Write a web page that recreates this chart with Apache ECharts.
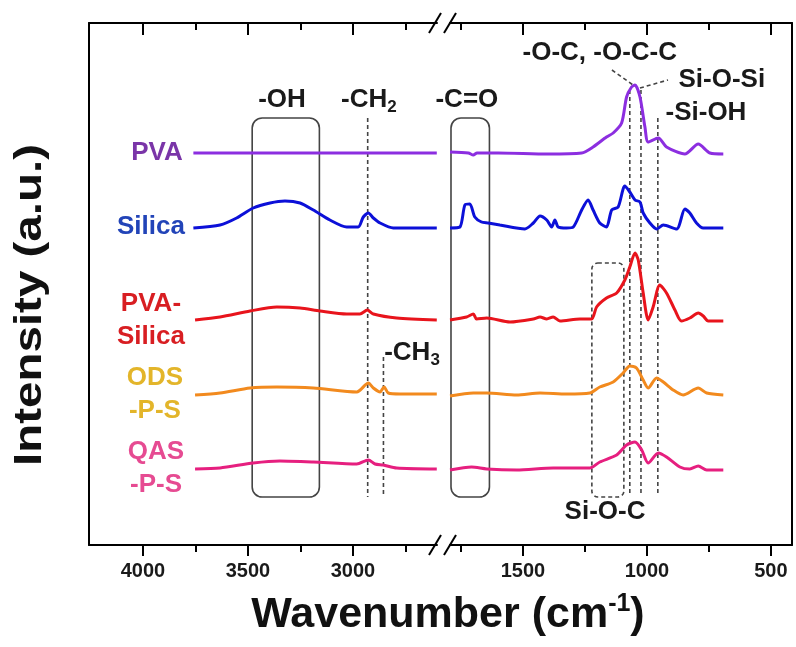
<!DOCTYPE html>
<html><head><meta charset="utf-8">
<script src="https://cdn.jsdelivr.net/npm/echarts@6/dist/echarts.min.js"></script>
<style>html,body{margin:0;padding:0;background:#fff}#c{width:796px;height:647px}</style>
</head><body><div id="c"></div>
<script>
const FONT = '"Liberation Sans", Arial, Helvetica, sans-serif';

// ---- axis segments (wavenumber, cm-1), broken axis ----
const leftRange = [2600, 4257];
const rightRange = [415, 1794];
const leftMajorTicks = [4000, 3500, 3000];
const leftMinorTicks = [3750, 3250, 2750];
const rightMajorTicks = [1500, 1000, 500];
const rightMinorTicks = [1750, 1250, 750];
const intensityRange = [0, 522];

// ---- series (stacked spectra, [wavenumber, intensity a.u.]) ----
const seriesNames = ['PVA', 'Silica', 'PVA-Silica', 'ODS-P-S', 'QAS-P-S'];
const seriesLabels = ['PVA', 'Silica', 'PVA-\nSilica', 'ODS\n-P-S', 'QAS\n-P-S'];
const lineColors = ['#8c2ee0', '#0c10d8', '#e8141c', '#f28a1e', '#e61f7f'];
const labelColors = ['#7a35a8', '#2244b8', '#d81e22', '#e3b52a', '#e64b92'];
const labelAnchors = [[3933, 392], [3962, 318], [3962, 225], [3943, 151], [3938, 77]];

const pvaHigh = [[3760,392],[3500,392],[3200,392],[2900,392],[2601,392]];
const pvaLow = [[1794,393],[1720,392],[1700,390],[1685,392],[1600,392],[1400,391],[1263,392],[1217,398],[1163,408],[1136,412],[1102,422],[1082,448],[1062,458],[1048,460],[1028,448],[1008,418],[995,403],[954,407],[921,398],[847,391],[793,401],[746,392],[692,391]];

const silicaHigh = [[3760,317],[3633,320],[3554,327],[3475,337],[3395,342],[3324,344],[3252,342],[3189,335],[3110,325],[3030,318],[2975,318],[2951,328],[2927,332],[2903,327],[2871,322],[2808,317],[2601,317]];
const silicaLow = [[1794,317],[1754,318],[1734,340],[1714,341],[1694,328],[1667,323],[1640,322],[1593,320],[1492,316],[1458,322],[1431,329],[1404,325],[1384,318],[1371,325],[1358,318],[1324,317],[1297,318],[1263,335],[1237,345],[1217,335],[1190,322],[1163,318],[1142,335],[1116,338],[1089,359],[1069,353],[1048,345],[1028,343],[1015,332],[988,322],[961,316],[934,320],[880,316],[847,336],[827,332],[800,322],[773,317],[692,317]];

const pvaSilicaHigh = [[3752,225],[3633,228],[3490,234],[3363,238],[3252,237],[3157,234],[3030,231],[2967,231],[2932,235],[2903,231],[2792,227],[2601,225]];
const pvaSilicaLow = [[1794,225],[1727,228],[1700,231],[1687,226],[1646,227],[1552,223],[1458,226],[1431,228],[1404,226],[1378,228],[1351,224],[1270,226],[1223,226],[1203,238],[1163,247],[1122,252],[1089,265],[1069,278],[1048,292],[1035,285],[1015,252],[995,225],[975,238],[948,260],[921,252],[887,235],[861,224],[827,227],[793,232],[773,229],[753,224],[692,224]];

const odsHigh = [[3752,150],[3633,152],[3490,157],[3363,158],[3189,157],[2982,153],[2927,162],[2903,157],[2871,153],[2852,158],[2832,152],[2776,151],[2601,151]];
const odsLow = [[1794,149],[1700,152],[1646,152],[1525,150],[1431,152],[1324,151],[1230,152],[1190,158],[1136,163],[1096,172],[1069,179],[1042,177],[1015,165],[995,157],[961,167],[934,163],[894,155],[854,150],[793,157],[759,152],[692,150]];

const qasHigh = [[3752,76],[3633,77],[3475,82],[3348,84],[3189,83],[2982,81],[2927,85],[2895,81],[2856,80],[2792,77],[2601,76]];
const qasLow = [[1794,75],[1707,78],[1646,76],[1525,75],[1378,77],[1230,77],[1190,83],[1122,90],[1082,100],[1048,103],[1021,95],[995,82],[954,92],[921,88],[867,78],[827,76],[793,79],[759,75],[692,75]];

const highSets = [pvaHigh, silicaHigh, pvaSilicaHigh, odsHigh, qasHigh];
const lowSets = [pvaLow, silicaLow, pvaSilicaLow, odsLow, qasLow];

// ---- annotations (data coordinates, segment 0 = high wavenumber, 1 = low) ----
const boxes = [
  {seg: 0, x: [3480, 3160], y: [427, 48], dashed: false},
  {seg: 1, x: [1790, 1635], y: [427, 48], dashed: false},
  {seg: 1, x: [1222, 1093], y: [282, 48], dashed: true}
];
const vLines = [
  {seg: 0, x: 2930, y: [427, 48]},
  {seg: 0, x: 2855, y: [188, 48]},
  {seg: 1, x: 1069, y: [455, 52]},
  {seg: 1, x: 1024, y: [455, 52]},
  {seg: 1, x: 956, y: [427, 52]}
];
const leaders = [
  {seg: 1, p: [[1141, 475], [1056, 460]]},
  {seg: 1, p: [[1028, 457], [915, 465]]}
];
const notes = [
  {seg: 0, at: [3338, 445], text: '-OH'},
  {seg: 0, at: [2924, 445], text: '-CH{s|2}'},
  {seg: 0, at: [2719, 192], text: '-CH{s|3}'},
  {seg: 1, at: [1726, 445], text: '-C=O'},
  {seg: 1, at: [1190, 492], text: '-O-C, -O-C-C'},
  {seg: 1, at: [698, 465], text: 'Si-O-Si'},
  {seg: 1, at: [762, 432], text: '-Si-OH'},
  {seg: 1, at: [1169, 33], text: 'Si-O-C'}
];

const chart = echarts.init(document.getElementById('c'), null, {renderer: 'canvas'});

function xAxisDef(grid, position, range, ticks, len, withLine, withLabels) {
  return {
    type: 'value', gridIndex: grid, position: position, inverse: true,
    min: range[0], max: range[1],
    axisLine: {show: withLine, onZero: false, lineStyle: {color: '#000', width: 2}},
    axisTick: {show: true, inside: position === 'top', length: len, customValues: ticks,
      lineStyle: {color: '#000', width: 2}},
    axisLabel: withLabels ? {show: true, customValues: ticks, margin: 16, fontSize: 20,
      fontWeight: 'bold', fontFamily: FONT, color: '#1a1a1a',
      formatter: v => String(Math.round(v))} : {show: false},
    splitLine: {show: false}, minorTick: {show: false}
  };
}
function yAxisDef(grid, position) {
  return {
    type: 'value', gridIndex: grid, position: position, min: intensityRange[0], max: intensityRange[1],
    axisLine: {show: true, onZero: false, lineStyle: {color: '#000', width: 2}},
    axisTick: {show: false}, axisLabel: {show: false}, splitLine: {show: false}
  };
}

const series = [];
seriesNames.forEach((name, i) => {
  [highSets[i], lowSets[i]].forEach((data, seg) => {
    series.push({
      type: 'line', name: name, data: data,
      xAxisIndex: seg === 0 ? 0 : 4, yAxisIndex: seg,
      showSymbol: false, symbol: 'none', smooth: 0.25, clip: false, silent: true,
      lineStyle: {color: lineColors[i], width: 3}, itemStyle: {color: lineColors[i]}, z: 3
    });
  });
});

chart.setOption({
  animation: false,
  backgroundColor: '#fff',
  grid: [
    {left: 89, top: 23, width: 348, height: 522, containLabel: false},
    {left: 450, top: 23, width: 342, height: 522, containLabel: false}
  ],
  xAxis: [
    xAxisDef(0, 'bottom', leftRange, leftMajorTicks, 11, true, true),
    xAxisDef(0, 'bottom', leftRange, leftMinorTicks, 7, false, false),
    xAxisDef(0, 'top', leftRange, leftMajorTicks, 12, true, false),
    xAxisDef(0, 'top', leftRange, leftMinorTicks, 7, false, false),
    xAxisDef(1, 'bottom', rightRange, rightMajorTicks, 11, true, true),
    xAxisDef(1, 'bottom', rightRange, rightMinorTicks, 7, false, false),
    xAxisDef(1, 'top', rightRange, rightMajorTicks, 12, true, false),
    xAxisDef(1, 'top', rightRange, rightMinorTicks, 7, false, false)
  ],
  yAxis: [yAxisDef(0, 'left'), yAxisDef(1, 'right')],
  series: series
});

function px(seg, x, y) {
  return chart.convertToPixel(seg === 0 ? {xAxisIndex: 0, yAxisIndex: 0} : {xAxisIndex: 4, yAxisIndex: 1}, [x, y]);
}

const g = [];
const annoStroke = '#444';
boxes.forEach(b => {
  const p1 = px(b.seg, b.x[0], b.y[0]), p2 = px(b.seg, b.x[1], b.y[1]);
  g.push({type: 'rect', z: 1, silent: true,
    shape: {x: p1[0], y: p1[1], width: p2[0] - p1[0], height: p2[1] - p1[1], r: b.dashed ? 6 : 10},
    style: {fill: 'none', stroke: annoStroke, lineWidth: 1.6, lineDash: b.dashed ? [4, 3] : null}});
});
vLines.forEach(l => {
  const p1 = px(l.seg, l.x, l.y[0]), p2 = px(l.seg, l.x, l.y[1]);
  g.push({type: 'line', z: 1, silent: true, shape: {x1: p1[0], y1: p1[1], x2: p2[0], y2: p2[1]},
    style: {stroke: annoStroke, lineWidth: 1.6, lineDash: [4, 3]}});
});
leaders.forEach(l => {
  const p1 = px(l.seg, l.p[0][0], l.p[0][1]), p2 = px(l.seg, l.p[1][0], l.p[1][1]);
  g.push({type: 'line', z: 1, silent: true, shape: {x1: p1[0], y1: p1[1], x2: p2[0], y2: p2[1]},
    style: {stroke: annoStroke, lineWidth: 1.6, lineDash: [4, 3]}});
});
notes.forEach(n => {
  const p = px(n.seg, n.at[0], n.at[1]);
  g.push({type: 'text', z: 5, silent: true, x: p[0], y: p[1],
    style: {text: n.text, fontSize: 26, fontWeight: 'bold', fontFamily: FONT,
      fill: '#1a1a1a', align: 'center', verticalAlign: 'middle',
      rich: {s: {fontSize: 17, fontWeight: 'bold', fontFamily: FONT, fill: '#1a1a1a', padding: [14, 0, 0, 0]}}}});
});
seriesLabels.forEach((t, i) => {
  const p = px(0, labelAnchors[i][0], labelAnchors[i][1]);
  g.push({type: 'text', z: 5, silent: true, x: p[0], y: p[1],
    style: {text: t, fontSize: 26, fontWeight: 'bold', fontFamily: FONT, fill: labelColors[i],
      align: 'center', verticalAlign: 'middle', lineHeight: 33}});
});

// break marks on top and bottom axis lines
const xL = px(0, leftRange[0], 0)[0], xR = px(1, rightRange[1], 0)[0];
const yB = px(0, leftRange[0], intensityRange[0])[1], yT = px(0, leftRange[0], intensityRange[1])[1];
[xL - 2, xR].forEach(c => {
  [yT, yB].forEach(y => {
    g.push({type: 'line', z: 6, silent: true, shape: {x1: c - 6, y1: y + 10, x2: c + 6, y2: y - 10},
      style: {stroke: '#000', lineWidth: 2}});
  });
});

// axis titles
g.push({type: 'text', z: 5, silent: true, x: 448, y: 615,
  style: {text: 'Wavenumber (cm{p|-1})', fontSize: 43, fontWeight: 'bold', fontFamily: FONT, fill: '#111',
    align: 'center', verticalAlign: 'middle',
    rich: {p: {fontSize: 25, fontWeight: 'bold', fontFamily: FONT, fill: '#111', padding: [0, 0, 22, 0]}}}});
g.push({type: 'text', z: 5, silent: true, x: 31, y: 305, rotation: Math.PI / 2, scaleX: 1.25,
  style: {text: 'Intensity (a.u.)', fontSize: 38, fontWeight: 'bold', fontFamily: FONT, fill: '#111',
    align: 'center', verticalAlign: 'middle'}});

chart.setOption({graphic: g});
</script></body></html>
